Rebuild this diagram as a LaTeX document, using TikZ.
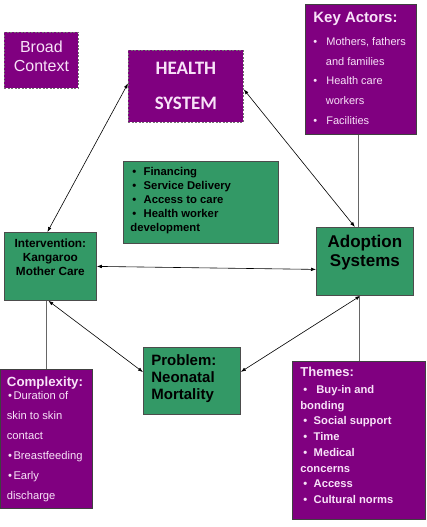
\documentclass[tikz,border=0pt]{standalone}
\usepackage{fontspec}
\setmainfont{Liberation Sans}
\newfontfamily\calibrifont{Carlito}
\usetikzlibrary{arrows.meta,positioning}

\definecolor{kmcpurple}{RGB}{128,0,128}
\definecolor{kmcgreen}{RGB}{51,153,102}
\definecolor{kmcpink}{RGB}{248,226,248}

% fixed-height block, text set from the top
\newcommand{\topblock}[3]{\parbox[c][#2][t]{#1}{\raggedright #3}}
% bullet in a box of given width, with a left gap
\newcommand{\bul}[2]{\makebox[#1][l]{\hspace{#2}\textbullet}}
\newcommand{\cbul}{\hspace{1.2pt}\textbullet\hspace{1.5pt}}

\tikzset{
  panel/.style={anchor=north west, line width=0.8pt},
  purplepanel/.style={panel, draw=black!75, fill=kmcpurple, text=kmcpink},
  dashpanel/.style={purplepanel, draw=black!55, dash pattern=on 2pt off 1.5pt},
  greenpanel/.style={panel, draw=black!70, fill=kmcgreen, text=black},
  link/.style={draw=black, line width=0.6pt, {Latex[length=5pt,width=3.6pt]}-{Latex[length=5pt,width=3.6pt]}},
  tie/.style={draw=black!60, line width=0.8pt},
}

\begin{document}
\begin{tikzpicture}[x=1pt, y=-1pt]
	\useasboundingbox (0,0) rectangle (426,527);

	% 1. context boxes (dashed)
	\node [dashpanel, inner xsep=0pt, inner ysep=8.3pt, font=\fontsize{16}{19}\selectfont] (broad) at (4,32)
		{\topblock{74pt}{39.4pt}{\centering Broad\\Context}};
	\node [dashpanel, inner xsep=0pt, inner ysep=11.7pt, font=\fontsize{19}{35}\selectfont\calibrifont\bfseries] (health) at (128,50)
		{\topblock{115pt}{48.6pt}{\centering HEALTH\\SYSTEM}};

	% 2. key actors, top right
	\node [purplepanel, inner xsep=8pt, inner ysep=7.7pt, font=\fontsize{11}{19.6}\selectfont] (keyactors) at (305,4)
		{\topblock{95pt}{114.6pt}{%
			{\bfseries\fontsize{15}{18}\selectfont Key Actors:}\\[3.7pt]
			\bul{13pt}{0pt}Mothers, fathers\\
			\hspace*{12.5pt}and families\\
			\bul{13pt}{0pt}Health care\\
			\hspace*{12.5pt}workers\\
			\bul{13pt}{0pt}Facilities}};

	% 3. health system building blocks, centre
	\node [greenpanel, inner xsep=7pt, inner ysep=6.4pt, font=\fontsize{11.3}{14}\selectfont\bfseries] (finance) at (123,161)
		{\topblock{141pt}{69.2pt}{%
			\bul{13.3pt}{2pt}Financing\\
			\bul{13.3pt}{2pt}Service Delivery\\
			\bul{13.3pt}{2pt}Access to care\\
			\bul{13.3pt}{2pt}Health worker\\
			development}};

	% 4. the three green corners
	\node [greenpanel, inner xsep=0pt, inner ysep=6.3pt, font=\fontsize{11.8}{14}\selectfont\bfseries] (interv) at (4,232)
		{\topblock{92pt}{55.4pt}{\centering Intervention:\\Kangaroo\\Mother Care}};
	\node [greenpanel, inner xsep=0pt, inner ysep=7.9pt, font=\fontsize{17}{18.5}\selectfont\bfseries] (adopt) at (316,227)
		{\topblock{97pt}{52.2pt}{\centering Adoption\\Systems}};
	\node [greenpanel, inner xsep=8pt, inner ysep=7pt, font=\fontsize{15}{17.2}\selectfont\bfseries] (problem) at (143,347)
		{\topblock{81pt}{53pt}{Problem:\\Neonatal\\Mortality}};

	% 5. complexity and themes, bottom
	\node [purplepanel, inner xsep=6.5pt, inner ysep=7.3pt, font=\fontsize{11.2}{19.9}\selectfont] (complex) at (0,369)
		{\topblock{79pt}{124.4pt}{%
			{\bfseries\fontsize{13.3}{16}\selectfont Complexity:}\\[-6.6pt]
			\cbul Duration of\\
			skin to skin\\
			contact\\
			\cbul Breastfeeding\\
			\cbul Early\\
			discharge}};
	\node [purplepanel, inner xsep=8pt, inner ysep=5.7pt, font=\fontsize{11.2}{15.76}\selectfont\bfseries] (themes) at (292,361)
		{\topblock{117pt}{146.6pt}{%
			{\fontsize{13}{16}\selectfont Themes:}\\[1pt]
			\bul{13.3pt}{3pt}\hspace{2.7pt}Buy-in and\\
			bonding\\
			\bul{13.3pt}{3pt}Social support\\
			\bul{13.3pt}{3pt}Time\\
			\bul{13.3pt}{3pt}Medical\\
			concerns\\
			\bul{13.3pt}{3pt}Access\\
			\bul{13.3pt}{3pt}Cultural norms}};

	% 6. two-way links
	\draw [link] ([xshift=-3pt]interv.north) -- ([yshift=3pt]health.west);
	\draw [link] ([yshift=-3pt]health.east) -- ([xshift=-10pt]adopt.north);
	\draw [link] (interv.east) -- ([yshift=-8pt]adopt.west);
	\draw [link] ([xshift=-2pt]interv.south) -- ([yshift=8.8pt]problem.west);
	\draw [link] ([xshift=-4.5pt]adopt.south) -- ([yshift=9pt]problem.east);

	% 7. plain ties from the side boxes
	\coordinate (kafoot) at ([xshift=-3pt]keyactors.south);
	\draw [tie] (kafoot) -- (kafoot |- adopt.north);
	\draw [tie] (complex.north) -- (complex.north |- interv.south);
	\draw [tie] (themes.north) -- (themes.north |- adopt.south);
\end{tikzpicture}
\end{document}
